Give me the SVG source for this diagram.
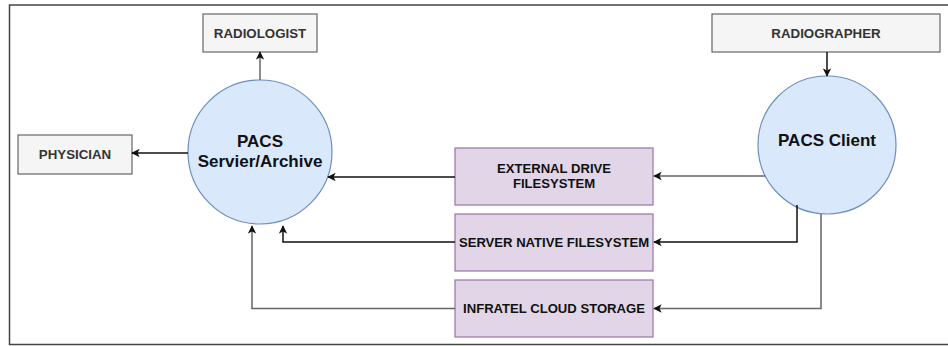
<svg xmlns="http://www.w3.org/2000/svg" width="948" height="346" viewBox="0 0 948 346">
<style>
.frame{fill:none;stroke:#444;stroke-width:1.5}
.actor{fill:#f5f5f5;stroke:#666;stroke-width:1.2}
.sys{fill:#dae8fc;stroke:#6c8ebf;stroke-width:1.2}
.store{fill:#e1d5e7;stroke:#9673a6;stroke-width:1.2}
.t{font-family:"Liberation Sans",Arial,sans-serif;font-weight:bold;text-anchor:middle}
.ta{font-size:13.3px;fill:#333}
.ts{font-size:13.1px;fill:#111}
.tc{font-size:17px;fill:#111}
.e{fill:none;stroke-width:1.5}
.k{stroke:#111}
.g{stroke:#666}
</style>
<defs>
<marker id="ah" viewBox="0 0 10 10" refX="9" refY="5" markerWidth="8.5" markerHeight="8.5" markerUnits="userSpaceOnUse" orient="auto">
<path d="M0,0 L10,5 L0,10 L2.5,5 Z" fill="#111"/>
</marker>
</defs>
<path class="frame" d="M948,5 H9.5 V344.5 H948"/>
<g id="radiologist">
<rect class="actor" x="203" y="14" width="114" height="38"/>
<text class="t ta" x="260" y="37.7">RADIOLOGIST</text>
</g>
<g id="physician">
<rect class="actor" x="18" y="135" width="114" height="39"/>
<text class="t ta" x="75" y="159.2">PHYSICIAN</text>
</g>
<g id="radiographer">
<rect class="actor" x="712" y="14" width="228" height="38"/>
<text class="t ta" x="826" y="37.7">RADIOGRAPHER</text>
</g>
<g id="pacs-server">
<circle class="sys" cx="260" cy="152" r="72"/>
<text class="t tc" x="260" y="146.5">PACS</text>
<text class="t tc" x="260" y="166.5">Servier/Archive</text>
</g>
<g id="pacs-client">
<circle class="sys" cx="827" cy="145" r="69"/>
<text class="t tc" x="827" y="146">PACS Client</text>
</g>
<g id="external-drive">
<rect class="store" x="455" y="148" width="198" height="57"/>
<text class="t ts" x="554" y="173">EXTERNAL DRIVE</text>
<text class="t ts" x="554" y="188">FILESYSTEM</text>
</g>
<g id="server-native">
<rect class="store" x="455" y="214" width="198" height="57"/>
<text class="t ts" x="554" y="247">SERVER NATIVE FILESYSTEM</text>
</g>
<g id="cloud-storage">
<rect class="store" x="455" y="280" width="198" height="57"/>
<text class="t ts" x="554" y="313">INFRATEL CLOUD STORAGE</text>
</g>
<g id="connectors">
<path class="e g" d="M260,80 V52" marker-end="url(#ah)"/>
<path class="e k" d="M188,153 H132" marker-end="url(#ah)"/>
<path class="e k" d="M827,52 V76" marker-end="url(#ah)"/>
<path class="e g" d="M765,176 H654" marker-end="url(#ah)"/>
<path class="e k" d="M455,177 H328" marker-end="url(#ah)"/>
<path class="e k" d="M797,205 V242 H654" marker-end="url(#ah)"/>
<path class="e k" d="M455,242 H283 V226" marker-end="url(#ah)"/>
<path class="e g" d="M821,214 V308.5 H654" marker-end="url(#ah)"/>
<path class="e g" d="M455,308.5 H252 V226" marker-end="url(#ah)"/>
</g>
</svg>
